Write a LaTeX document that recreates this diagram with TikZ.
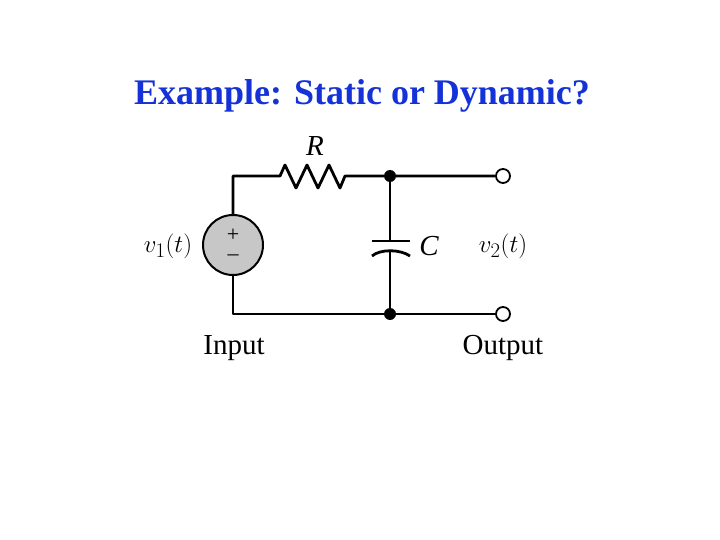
\documentclass[tikz,border=0pt]{standalone}
\usepackage{fontspec}
\setmainfont{Liberation Serif}
\definecolor{ttl}{RGB}{20,50,215}
\begin{document}
\begin{tikzpicture}[x=1pt,y=-1pt,
  wire/.style={line width=2.8pt,line join=round},
  lbl/.style={font=\fontsize{29}{30}\selectfont},
  dot/.style={circle,fill=black,inner sep=0pt,minimum size=12pt},
  term/.style={circle,draw,line width=1.8pt,fill=white,inner sep=0pt,minimum size=14pt}]
\useasboundingbox (0,0) rectangle (720,540);
\node[font=\bfseries\fontsize{36}{40}\selectfont,text=ttl] (title) at (362,96) {Example: Static or Dynamic?};
\node[circle,draw,line width=2pt,fill=black!22,minimum size=60pt,inner sep=0pt] (src) at (233,245) {};
\node[font=\fontsize{22}{22}\selectfont,inner sep=0pt] (plus) at (233,235) {+};
\node[font=\fontsize{22}{22}\selectfont,inner sep=0pt] (minus) at (233,258) {--};
\coordinate (tl) at (233,176); \coordinate (bl) at (233,314);
\coordinate (r1) at (280,176); \coordinate (r2) at (345,176);
\node[dot] (jt) at (390,176) {};
\node[dot] (jb) at (390,314) {};
\node[term] (ot) at (503,176) {};
\node[term] (ob) at (503,314) {};
\coordinate (ct) at (390,241); \coordinate (cb) at (390,251);
\draw[wire] (src.north) -- (tl) -- (r1) -- (285,165) -- (296,188) -- (307,165) -- (318,188) -- (329,165) -- (340,188) -- (r2) -- (jt) -- (ot);
\draw[wire] (src.south) -- (bl) -- (jb) -- (ob);
\draw[wire] (jt) -- (ct); \draw[wire] (cb) -- (jb);
\draw[wire] (372,241) -- (410,241);
\draw[wire] (372,256) .. controls (380,249) and (400,249) .. (410,256);
\node[font=\itshape\fontsize{29}{30}\selectfont] (R) at (315,146) {R};
\node[font=\itshape\fontsize{29}{30}\selectfont] (C) at (429,246) {C};
\node[lbl] (v1) at (168,246) {$v_1(t)$};
\node[lbl] (v2) at (503,246) {$v_2(t)$};
\node[lbl] (in) at (234,348) {Input};
\node[lbl] (out) at (503,348) {Output};
\end{tikzpicture}
\end{document}
